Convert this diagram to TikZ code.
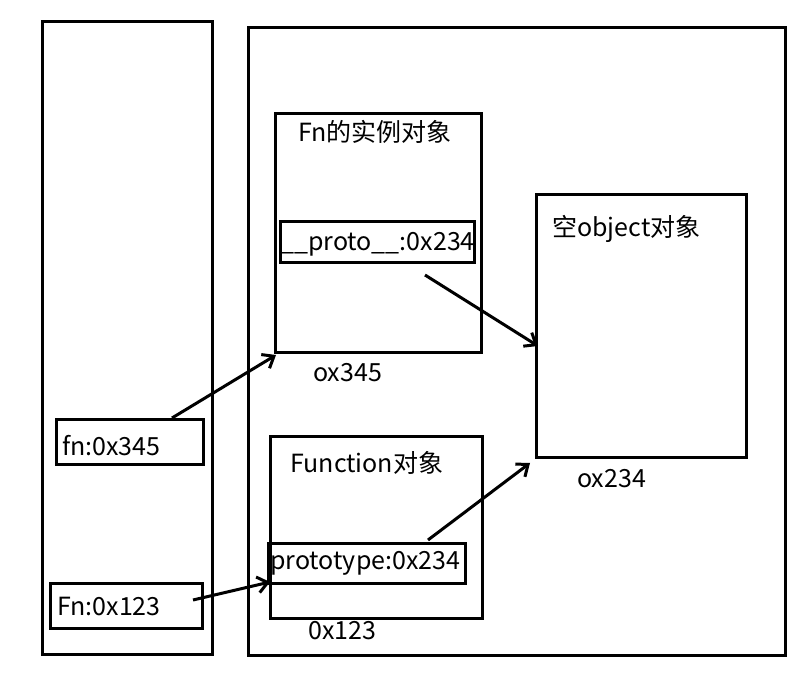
\documentclass[tikz,border=0pt]{standalone}
\usepackage{fontspec}
\setmainfont{Noto Sans CJK SC}
\usetikzlibrary{arrows.meta}
\begin{document}
\begin{tikzpicture}[x=1pt,y=-1pt,
  box/.style={draw,line width=3pt},
  lbl/.style={font=\fontsize{25}{28}\selectfont,inner sep=0pt,anchor=west},
  arr/.style={line width=3pt,-{Straight Barb[length=10pt,width=16pt]}}]
\useasboundingbox (0,0) rectangle (806,684);
\draw[box] (42,22) rectangle (212,654);
\draw[box] (248,28) rectangle (785,655);
\draw[box] (275,114) rectangle (481,353);
\node[lbl] (t1) at (298,132) {Fn的实例对象};
\draw[box] (280,222) rectangle (474,263);
\node[lbl] (p1) at (280,244) {\_\_proto\_\_:0x234};
\node[lbl] (o1) at (313,373) {ox345};
\draw[box] (536,195) rectangle (746,457);
\node[lbl] (t2) at (552,229) {空object对象};
\node[lbl] (o2) at (577,479) {ox234};
\draw[box] (270,437) rectangle (482,618);
\node[lbl] (t3) at (290,463) {Function对象};
\draw[box] (268,543) rectangle (465,583);
\node[lbl] (p2) at (270,563) {prototype:0x234};
\node[lbl] (o3) at (308,631) {0x123};
\draw[box] (56,420) rectangle (203,464);
\node[lbl] (f1) at (62,446) {fn:0x345};
\draw[box] (50,583) rectangle (202,628);
\node[lbl] (f2) at (57,606) {Fn:0x123};
\coordinate (a1s) at (172,418); \coordinate (a1e) at (276,355);
\coordinate (a2s) at (425,275); \coordinate (a2e) at (538,346);
\coordinate (a3s) at (193,600); \coordinate (a3e) at (270,582);
\coordinate (a4s) at (428,540); \coordinate (a4e) at (530,463);
\draw[arr] (a1s) -- (a1e);
\draw[arr] (a2s) -- (a2e);
\draw[arr] (a3s) -- (a3e);
\draw[arr] (a4s) -- (a4e);
\end{tikzpicture}
\end{document}
